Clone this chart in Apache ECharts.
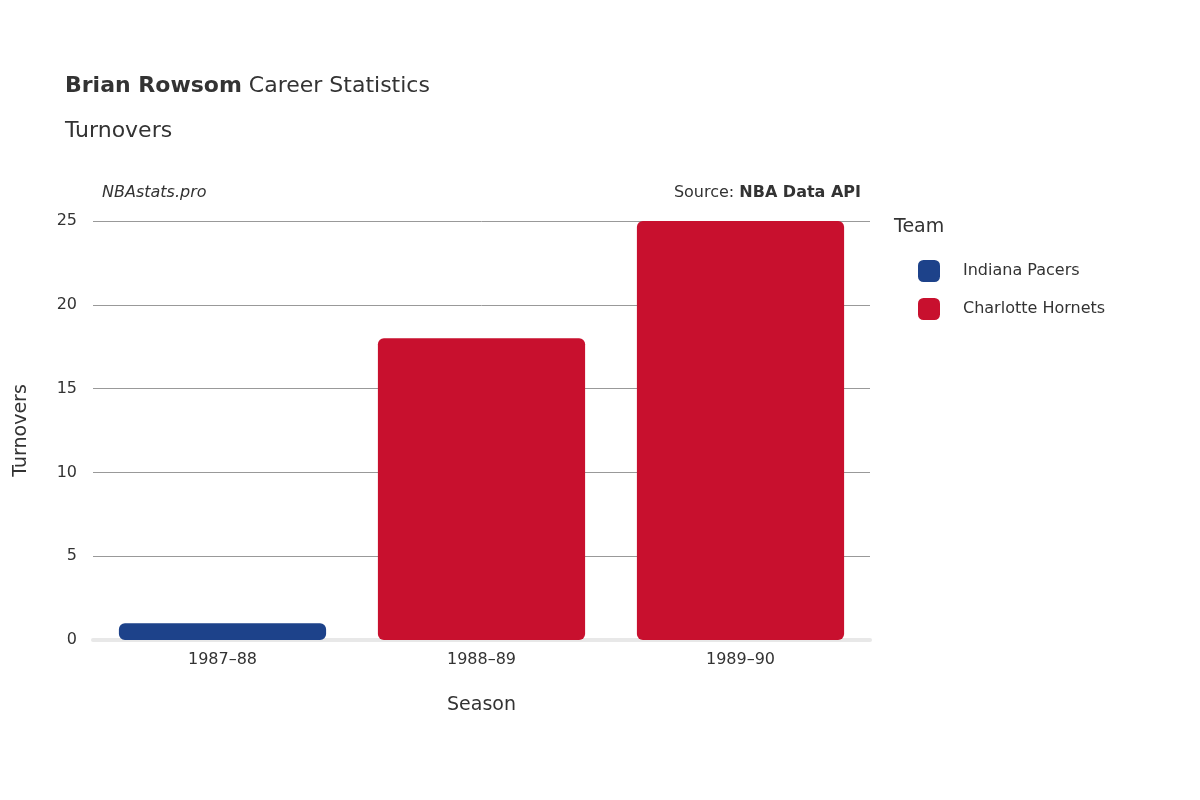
<!DOCTYPE html>
<html><head><meta charset="utf-8">
<script src="https://cdn.jsdelivr.net/npm/echarts@6/dist/echarts.min.js"></script>
<style>html,body{margin:0;background:#fff}#c{width:1200px;height:800px}</style>
</head><body><div id="c"></div>
<script>
const seasons = ['1987–88','1988–89','1989–90'];
const pacers = [1, null, null];
const hornets = [null, 18, 25];
const yTicks = [0,5,10,15,20,25];
const F = 'DejaVu Sans';
const chart = echarts.init(document.getElementById('c'));
chart.setOption({
  textStyle:{fontFamily:F},
  grid:{left:93,right:330,top:221,bottom:160},
  title:[
    {text:'{b|Brian Rowsom} Career Statistics',left:60,top:70,textStyle:{fontFamily:F,fontSize:22,fontWeight:'normal',color:'#333',rich:{b:{fontFamily:F,fontSize:22,fontWeight:'bold',color:'#333'}}}},
    {text:'Turnovers',left:60,top:115,textStyle:{fontFamily:F,fontSize:22,fontWeight:'normal',color:'#333'}},
    {text:'NBAstats.pro',left:97,top:180,textStyle:{fontFamily:F,fontSize:16,fontStyle:'italic',fontWeight:'normal',color:'#333'}},
    {text:'Source: {b|NBA Data API}',right:334,top:180,textStyle:{fontFamily:F,fontSize:16,fontWeight:'normal',color:'#333',rich:{b:{fontFamily:F,fontSize:16,fontWeight:'bold',color:'#333'}}}},
    {text:'Team',left:889,top:213,textStyle:{fontFamily:F,fontSize:19,fontWeight:'normal',color:'#333'}}
  ],
  legend:{orient:'vertical',left:913,top:255,itemWidth:22,itemHeight:22,itemGap:16,icon:'roundRect',
    textStyle:{fontFamily:F,fontSize:16,color:'#333',padding:[0,0,0,18]},data:['Indiana Pacers','Charlotte Hornets']},
  xAxis:{type:'category',data:seasons,name:'Season',nameLocation:'middle',nameGap:56,
    nameTextStyle:{fontFamily:F,fontSize:19,color:'#333'},
    axisLine:{show:true,lineStyle:{color:'#e8e8e8',width:4}},axisTick:{show:false},
    axisLabel:{fontFamily:F,fontSize:16,color:'#333',margin:12}},
  yAxis:{type:'value',min:0,max:25,interval:5,name:'Turnovers',nameLocation:'middle',nameGap:62,
    nameTextStyle:{fontFamily:F,fontSize:19,color:'#333'},
    splitLine:{lineStyle:{color:'#999',width:1}},axisLine:{show:false},axisTick:{show:false},
    axisLabel:{fontFamily:F,fontSize:16,color:'#333',margin:16}},
  series:[
    {name:'Indiana Pacers',type:'bar',stack:'t',data:pacers,barWidth:'80%',itemStyle:{color:'#1d428a',borderRadius:6}},
    {name:'Charlotte Hornets',type:'bar',stack:'t',data:hornets,barWidth:'80%',itemStyle:{color:'#c8102e',borderRadius:6}}
  ]
});
</script></body></html>
